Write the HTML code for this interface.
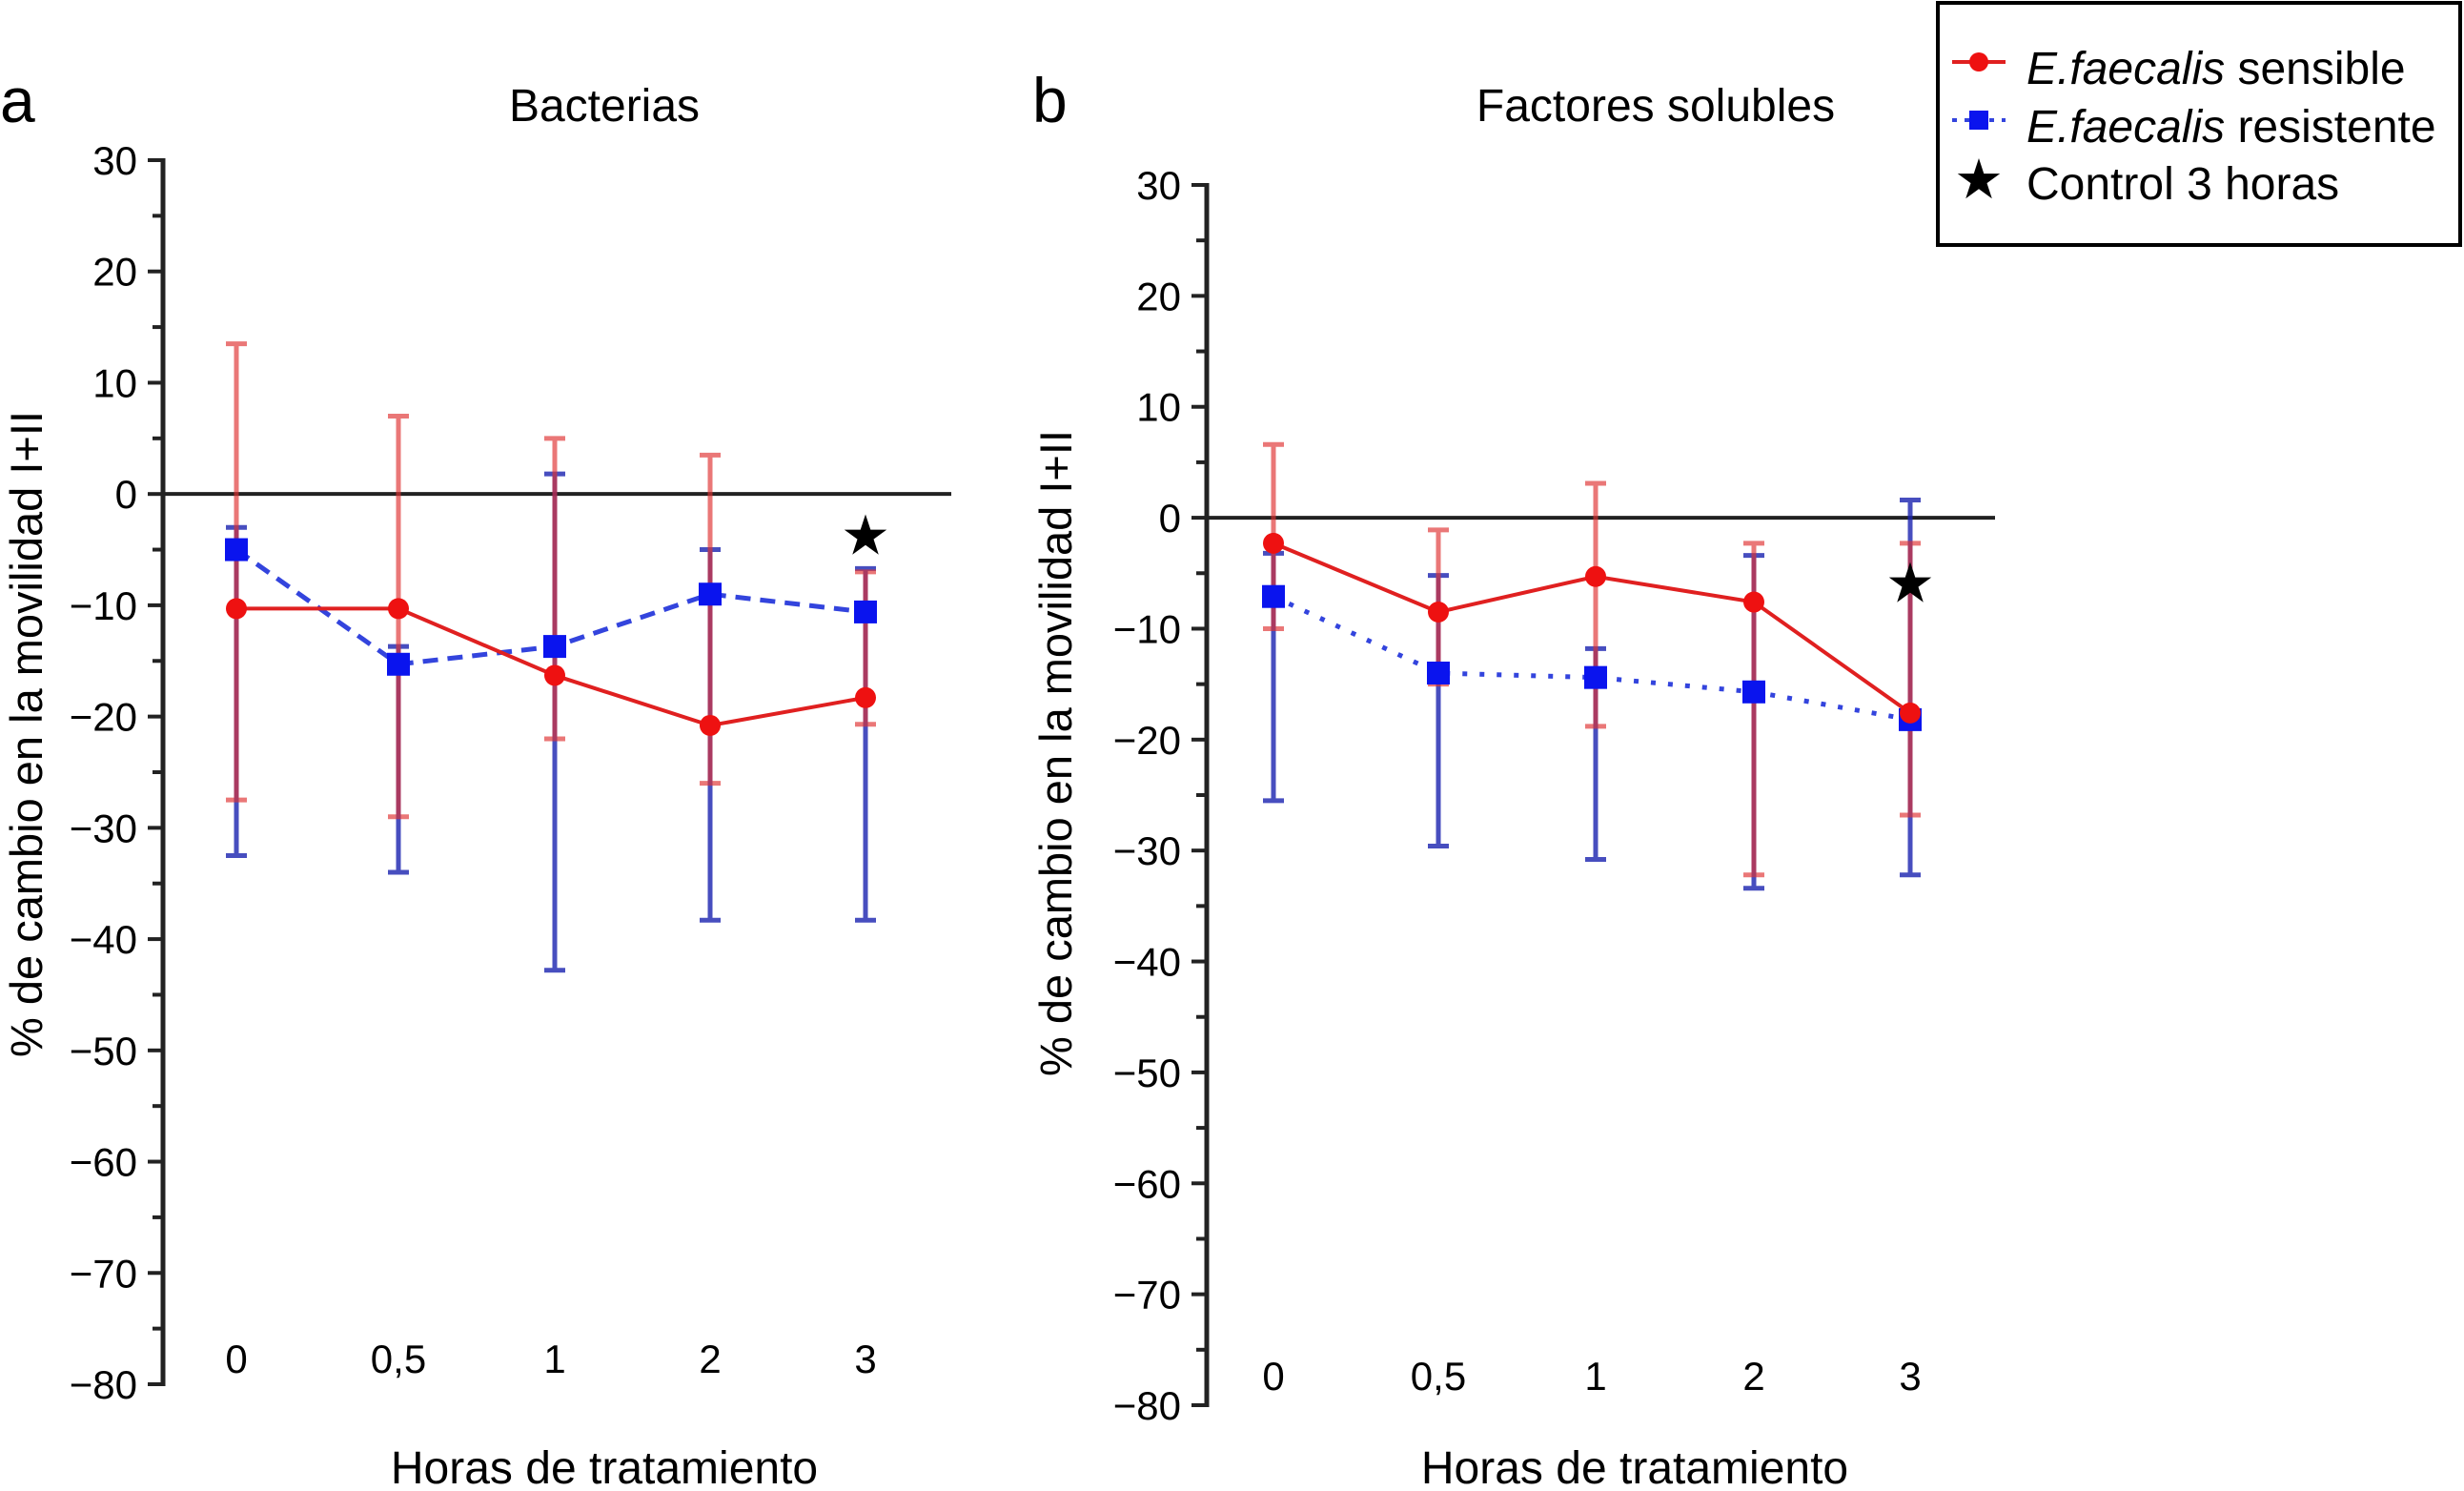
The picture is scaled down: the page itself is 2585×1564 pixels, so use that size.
<!DOCTYPE html>
<html><head><meta charset="utf-8"><style>
html,body{margin:0;padding:0;background:#fff}
svg{display:block}
text{font-family:"Liberation Sans",sans-serif;fill:#000}
</style></head><body>
<svg id="c" width="2585" height="1564" viewBox="0 0 2585 1564" xmlns="http://www.w3.org/2000/svg"></svg>
<script>
const categories=["0","0,5","1","2","3"];
const yTicks=[30,20,10,0,-10,-20,-30,-40,-50,-60,-70,-80];
const aRedMean=[-10.3,-10.3,-16.3,-20.8,-18.3];
const aRedHi=[13.5,7,5,3.5,-7];
const aRedLo=[-27.5,-29,-22,-26,-20.7];
const aBlueMean=[-5,-15.3,-13.7,-9,-10.6];
const aBlueHi=[-3,-13.7,1.8,-5,-6.7];
const aBlueLo=[-32.5,-34,-42.8,-38.3,-38.3];
const aStar=-3.7;
const bRedMean=[-2.3,-8.5,-5.3,-7.6,-17.6];
const bRedHi=[6.6,-1.1,3.1,-2.3,-2.3];
const bRedLo=[-10,-15,-18.8,-32.2,-26.8];
const bBlueMean=[-7.1,-14,-14.4,-15.7,-18.2];
const bBlueHi=[-3.2,-5.2,-11.8,-3.4,1.6];
const bBlueLo=[-25.5,-29.6,-30.8,-33.4,-32.2];
const bStar=-5.9;

const NS="http://www.w3.org/2000/svg";
const svg=document.getElementById('c');
function mk(tag,attrs,parent){const e=document.createElementNS(NS,tag);for(const k in attrs)e.setAttribute(k,attrs[k]);(parent||svg).appendChild(e);return e;}

function panel(p){
  const g=mk('g',{});
  
  
  const y=v=>p.y0+(30-v)/110*(p.y1-p.y0);
  const x=i=>p.xs[i];
  const ax=mk('line',{x1:p.ax,y1:y(30)-2,x2:p.ax,y2:y(-80)+2,stroke:'#222','stroke-width':5},g);
  
  
  for(let v=30;v>=-80;v-=5){
    const major=v%10===0;
    const t=mk('line',{x1:p.ax-(major?16:11),y1:y(v),x2:p.ax,y2:y(v),stroke:'#222','stroke-width':4},g);
    
    
  }
  yTicks.forEach(v=>{
    const t=mk('text',{x:p.ax-27,y:y(v)+15,'text-anchor':'end','font-size':42},g);
    t.textContent=v<0?'\u2212'+(-v):String(v);
    
    
  });
  const z=mk('line',{x1:p.ax,y1:y(0),x2:p.zEnd,y2:y(0),stroke:'#222','stroke-width':4},g);
  
  
  categories.forEach((c,i)=>{
    const t=mk('text',{x:x(i),y:p.tickY,'text-anchor':'middle','font-size':42},g);
    t.textContent=c;
    
    
  });
  const tt=mk('text',{x:p.titleX,y:127,'text-anchor':'middle','font-size':48},g);
  tt.textContent=p.title;
  
  
  const xt=mk('text',{x:p.xtX,y:1556,'text-anchor':'middle','font-size':48},g);
  xt.textContent='Horas de tratamiento';
  
  
  const yt=mk('text',{x:0,y:0,'text-anchor':'middle','font-size':47,transform:`translate(${p.ytX},${p.ytY}) rotate(-90)`},g);
  yt.textContent='% de cambio en la movilidad I+II';
  
  
  const lt=mk('text',{x:p.letX,y:128,'font-size':66},g);
  lt.textContent=p.id==='a'?'a':'b';
  
  
  function bars(hi,lo,col,op,name){
    hi.forEach((h,i)=>{
      const e=mk('g',{stroke:col,'stroke-width':5,opacity:op},g);
      
      
      mk('line',{x1:x(i),y1:y(h),x2:x(i),y2:y(lo[i])},e);
      mk('line',{x1:x(i)-11,y1:y(h),x2:x(i)+11,y2:y(h)},e);
      mk('line',{x1:x(i)-11,y1:y(lo[i]),x2:x(i)+11,y2:y(lo[i])},e);
    });
  }
  bars(p.bHi,p.bLo,'#1a22b0',0.8,p.id+'-resistente-error-bar');
  bars(p.rHi,p.rLo,'#e03030',0.65,p.id+'-sensible-error-bar');
  const bl=mk('polyline',{points:p.bMean.map((v,i)=>x(i)+','+y(v)).join(' '),fill:'none',stroke:'#3344dd','stroke-width':5,'stroke-dasharray':p.dash},g);
  
  
  const rl=mk('polyline',{points:p.rMean.map((v,i)=>x(i)+','+y(v)).join(' '),fill:'none',stroke:'#e02020','stroke-width':4},g);
  
  
  p.bMean.forEach((v,i)=>{
    const m=mk('rect',{x:x(i)-12,y:y(v)-12,width:24,height:24,fill:'#0a14ee'},g);
    
    
  });
  p.rMean.forEach((v,i)=>{
    const m=mk('circle',{cx:x(i),cy:y(v),r:11,fill:'#ee1111'},g);
    
    
  });
  const s=mk('text',{x:x(4),y:y(p.star)+20,'text-anchor':'middle','font-size':58},g);
  s.textContent='\u2605';
  
  
}
panel({id:'a',ax:171,y0:168,y1:1452,xs:[248,418,582,745,908],zEnd:998,tickY:1440,titleX:634,xtX:634,ytX:44,ytY:770,letX:0,
  rMean:aRedMean,rHi:aRedHi,rLo:aRedLo,bMean:aBlueMean,bHi:aBlueHi,bLo:aBlueLo,star:aStar,dash:'16 10',title:'Bacterias'});
panel({id:'b',ax:1266,y0:194,y1:1474,xs:[1336,1509,1674,1840,2004],zEnd:2093,tickY:1458,titleX:1737,xtX:1715,ytX:1124,ytY:790,letX:1083,
  rMean:bRedMean,rHi:bRedHi,rLo:bRedLo,bMean:bBlueMean,bHi:bBlueHi,bLo:bBlueLo,star:bStar,dash:'5 13',title:'Factores solubles'});
const lg=mk('g',{});


mk('rect',{x:2033,y:3,width:548,height:254,fill:'#fff',stroke:'#000','stroke-width':4},lg);
const e1=mk('g',{},lg);


mk('line',{x1:2048,y1:65,x2:2104,y2:65,stroke:'#e02020','stroke-width':4},e1);
mk('circle',{cx:2076,cy:65,r:10,fill:'#ee1111'},e1);
const t1=mk('text',{x:2126,y:88,'font-size':48},e1);
t1.innerHTML='<tspan font-style="italic">E.faecalis</tspan> sensible';
const e2=mk('g',{},lg);


mk('line',{x1:2048,y1:126,x2:2104,y2:126,stroke:'#3344dd','stroke-width':4,'stroke-dasharray':'5 8'},e2);
mk('rect',{x:2066,y:116,width:20,height:20,fill:'#0a14ee'},e2);
const t2=mk('text',{x:2126,y:149,'font-size':48},e2);
t2.innerHTML='<tspan font-style="italic">E.faecalis</tspan> resistente';
const e3=mk('g',{},lg);


const st=mk('text',{x:2076,y:208,'text-anchor':'middle','font-size':58},e3);
st.textContent='\u2605';
const t3=mk('text',{x:2126,y:209,'font-size':48},e3);
t3.textContent='Control 3 horas';
</script>
</body></html>
